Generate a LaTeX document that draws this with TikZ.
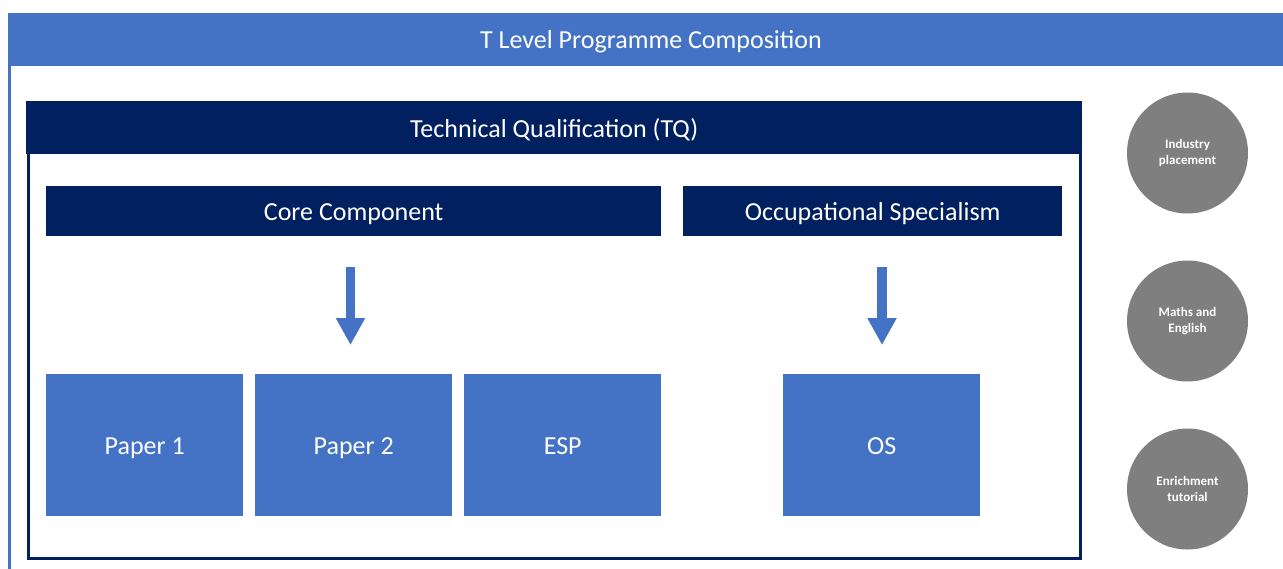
\documentclass[tikz,border=0pt]{standalone}
\usepackage{fontspec}
\setmainfont{Carlito}
\usetikzlibrary{arrows.meta}
\definecolor{hblue}{HTML}{4472C4}
\definecolor{navy}{HTML}{002060}
\definecolor{cgrey}{HTML}{7F7F7F}
\begin{document}
\begin{tikzpicture}[x=1pt,y=-1pt,
  bigtext/.style={text=white,font=\fontsize{26}{30}\selectfont,text height=19pt,text depth=0pt},
  bluebar/.style={fill=hblue,draw=none,minimum height=53pt,inner sep=0pt},
  navybar/.style={fill=navy,draw=none,inner sep=0pt,bigtext},
  paperbox/.style={fill=hblue,draw=none,minimum width=197pt,minimum height=142pt,inner sep=0pt,bigtext},
  greycircle/.style={circle,fill=cgrey,draw=none,minimum size=121pt,inner sep=0pt,text=white,align=center,font=\bfseries\fontsize{13}{15.5}\selectfont},
  downarrow/.style={draw=hblue,line width=9.5pt,-{Triangle[width=27.5pt,length=27pt]}}
]
\useasboundingbox (0,0) rectangle (1283,568);
% outer frame
\draw[hblue,line width=3pt] (9.5,60) -- (9.5,570);
\node[bluebar,minimum width=1280pt,anchor=north west] (prog) at (8,13) {};
\node[bigtext,inner sep=0pt] (progt) at (651,39) {T Level Programme Composition};
% TQ box
\draw[navy,line width=3pt] (28,140) -- (28,558) -- (1080.5,558) -- (1080.5,140);
\node[navybar,minimum width=1056pt,minimum height=53pt,anchor=north west] (tq) at (26,101) {Technical Qualification (TQ)};
% components
\node[navybar,minimum width=615pt,minimum height=50pt,anchor=north west] (core) at (46,186) {Core Component};
\node[navybar,minimum width=379pt,minimum height=50pt,anchor=north west] (occ) at (683,186) {Occupational Specialism};
% arrows
\coordinate (a1s) at (350.5,267);
\coordinate (a1e) at (350.5,345);
\coordinate (a2s) at (882,267);
\coordinate (a2e) at (882,345);
\draw[downarrow] (a1s) -- (a1e);
\draw[downarrow] (a2s) -- (a2e);
% papers
\node[paperbox,anchor=north west] (p1) at (46,374) {Paper 1};
\node[paperbox,anchor=north west] (p2) at (255,374) {Paper 2};
\node[paperbox,anchor=north west] (esp) at (464,374) {ESP};
\node[paperbox,anchor=north west] (os) at (783,374) {OS};
% circles
\node[greycircle] (ind) at (1187.5,153) {Industry\\placement};
\node[greycircle] (me) at (1187.5,321) {Maths and\\English};
\node[greycircle] (enr) at (1187.5,489) {Enrichment\\tutorial};
\end{tikzpicture}
\end{document}
